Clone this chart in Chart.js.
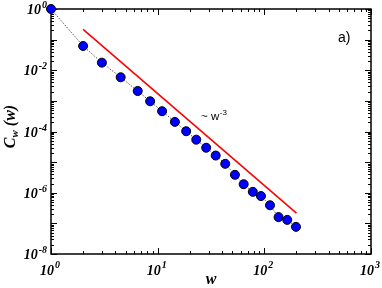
<!DOCTYPE html>
<html>
<head>
<meta charset="utf-8">
<script src="https://cdn.jsdelivr.net/npm/chart.js@4/dist/chart.umd.min.js"></script>
<style>
  html, body { margin: 0; padding: 0; background: #fff; }
  #wrap { width: 382px; height: 288px; }
</style>
</head>
<body>
<div id="wrap"><canvas id="c" width="382" height="288"></canvas></div>
<script>
// ---- data ----
const wValues = [1, 2, 3, 4.5, 6.5, 8.5, 11, 14.5, 18.5, 23, 28.5, 35, 43, 53, 64, 78, 93, 113, 136, 164, 198];
const cValues = [1, 0.062, 0.0177, 0.0059, 0.0021, 0.00097, 0.00046, 0.000206, 0.000102, 0.000054, 0.0000295,
                 0.0000164, 0.0000088, 0.00000385, 0.0000019, 0.00000107, 0.00000078, 0.00000039, 0.00000016,
                 0.00000013, 0.000000077];
const fitW = [2, 200];
const fitC = [0.2175, 0.0000002175];
const xTickExponents = ['0', '1', '2', '3'];
const yTickExponents = ['0', '-2', '-4', '-6', '-8'];
const xTitle = 'w';
const yTitleMain = 'C';
const yTitleSub = 'w';
const yTitleTail = ' (w)';
const fitLabel = '~ w';
const fitLabelExp = '-3';
const panelLabel = 'a)';

const pts = wValues.map((w, i) => ({ x: w, y: cValues[i] }));
const fitPts = fitW.map((w, i) => ({ x: w, y: fitC[i] }));

const SERIF = '"Liberation Serif", "Times New Roman", "DejaVu Serif", serif';
const SANS = '"Liberation Sans", Arial, Helvetica, sans-serif';

function line(ctx, x1, y1, x2, y2) {
  ctx.beginPath(); ctx.moveTo(x1, y1); ctx.lineTo(x2, y2); ctx.stroke();
}

const framePlugin = {
  id: 'framePlugin',
  beforeDatasetsDraw(chart) {
    const { ctx, chartArea: a, scales: { x, y } } = chart;
    ctx.save();
    ctx.strokeStyle = '#000';
    ctx.lineWidth = 1.5;
    ctx.strokeRect(a.left, a.top, a.right - a.left, a.bottom - a.top);
    ctx.lineWidth = 1;
    // x ticks (inward, bottom and top)
    const xd = Math.log10(x.min), xD = Math.log10(x.max);
    for (let d = xd; d <= xD; d++) {
      for (let k = 1; k <= 9; k++) {
        if (d === xD && k > 1) break;
        const px = Math.round(x.getPixelForValue(k * Math.pow(10, d))) + 0.5;
        const len = k === 1 ? 6 : 3;
        line(ctx, px, a.bottom, px, a.bottom - len);
        line(ctx, px, a.top, px, a.top + len);
      }
    }
    // y ticks (inward, left and right)
    const yd = Math.round(Math.log10(y.min)), yD = Math.round(Math.log10(y.max));
    for (let d = yd; d <= yD; d++) {
      for (let k = 1; k <= 9; k++) {
        if (d === yD && k > 1) break;
        const py = Math.round(y.getPixelForValue(k * Math.pow(10, d))) + 0.5;
        const len = k === 1 ? 6 : 3;
        line(ctx, a.left, py, a.left + len, py);
        line(ctx, a.right, py, a.right - len, py);
      }
    }
    // tick labels
    ctx.fillStyle = '#000';
    const baseFont = 'italic bold 14px ' + SERIF;
    const expFont = 'italic bold 10px ' + SERIF;
    xTickExponents.forEach(e => {
      const px = x.getPixelForValue(Math.pow(10, Number(e)));
      ctx.font = baseFont; const bw = ctx.measureText('10').width;
      ctx.font = expFont; const ew = ctx.measureText(e).width;
      const left = px - 1 - (bw + ew + 1) / 2;
      ctx.textAlign = 'left'; ctx.textBaseline = 'alphabetic';
      ctx.font = baseFont; ctx.fillText('10', left, a.bottom + 21);
      ctx.font = expFont; ctx.fillText(e, left + bw + 1, a.bottom + 14);
    });
    yTickExponents.forEach(e => {
      const py = y.getPixelForValue(Math.pow(10, Number(e)));
      ctx.font = baseFont; const bw = ctx.measureText('10').width;
      ctx.font = expFont; const ew = ctx.measureText(e).width;
      const right = a.left - 4;
      const left = right - ew - 1 - bw;
      ctx.textAlign = 'left'; ctx.textBaseline = 'alphabetic';
      ctx.font = baseFont; ctx.fillText('10', left, py + 5);
      ctx.font = expFont; ctx.fillText(e, left + bw + 1, py - 1);
    });
    // axis titles
    const tFont = 'italic bold 16px ' + SERIF;
    const sFont = 'italic bold 11px ' + SERIF;
    ctx.font = tFont; ctx.textAlign = 'center';
    ctx.fillText(xTitle, (a.left + a.right) / 2, 284);
    // y title, rotated
    ctx.save();
    ctx.translate(15, (a.top + a.bottom) / 2 - 5);
    ctx.rotate(-Math.PI / 2);
    ctx.textAlign = 'left';
    ctx.font = tFont; const w1 = ctx.measureText(yTitleMain).width;
    ctx.font = sFont; const w2 = ctx.measureText(yTitleSub).width;
    ctx.font = tFont; const w3 = ctx.measureText(yTitleTail).width;
    let sx = -(w1 + w2 + w3) / 2;
    ctx.font = tFont; ctx.fillText(yTitleMain, sx, 0); sx += w1;
    ctx.font = sFont; ctx.fillText(yTitleSub, sx, 3); sx += w2;
    ctx.font = tFont; ctx.fillText(yTitleTail, sx, 0);
    ctx.restore();
    ctx.restore();
  },
  afterDraw(chart) {
    const { ctx } = chart;
    ctx.save();
    ctx.fillStyle = '#000';
    ctx.textAlign = 'left'; ctx.textBaseline = 'alphabetic';
    ctx.font = '11.5px ' + SANS;
    ctx.fillText(fitLabel, 201, 119.5);
    const fw = ctx.measureText(fitLabel).width;
    ctx.font = '8px ' + SANS;
    ctx.fillText(fitLabelExp, 201 + fw + 0.5, 115);
    ctx.font = '14px ' + SANS;
    ctx.fillText(panelLabel, 338, 42);
    ctx.restore();
  }
};

new Chart(document.getElementById('c'), {
  type: 'scatter',
  data: {
    datasets: [
      {
        data: fitPts,
        showLine: true,
        borderColor: '#ff0000',
        borderWidth: 1.6,
        pointRadius: 0,
        clip: false
      },
      {
        data: pts,
        showLine: true,
        borderColor: '#555555',
        borderWidth: 1,
        borderDash: [1.5, 1.5],
        pointRadius: 4.5,
        pointBorderWidth: 1,
        pointBorderColor: '#000000',
        pointBackgroundColor: '#0000ff',
        clip: false
      }
    ]
  },
  options: {
    responsive: false,
    animation: false,
    devicePixelRatio: 1,
    layout: { padding: { left: 51, top: 9, right: 11, bottom: 34 } },
    plugins: { legend: { display: false }, tooltip: { enabled: false } },
    scales: {
      x: { type: 'logarithmic', min: 1, max: 1000, display: false },
      y: { type: 'logarithmic', min: 1e-8, max: 1, display: false }
    }
  },
  plugins: [framePlugin]
});
</script>
</body>
</html>
